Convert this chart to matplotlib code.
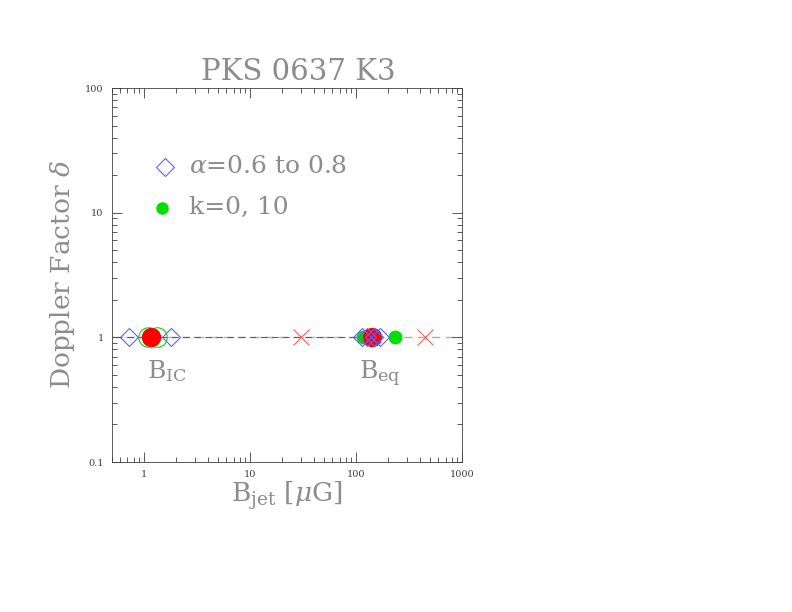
import matplotlib
matplotlib.use("Agg")
import matplotlib.pyplot as plt
import numpy as np

# Data
ic_diamonds_x = [0.72, 1.79]
ic_green_x = [1.10, 1.32]
ic_red_x = [1.17]
eq_diamonds_x = [113, 128, 148, 167]
eq_green_x = [116, 235]
eq_red_x = [142]
cross_x = [30.5, 452]
delta = 1.0

x_ticks = [1, 10, 100, 1000]
x_ticklabels = ["1", "10", "100", "1000"]
y_ticks = [0.1, 1, 10, 100]
y_ticklabels = ["0.1", "1", "10", "100"]

plt.rcParams['mathtext.fontset'] = 'dejavuserif'
plt.rcParams['font.family'] = 'DejaVu Serif'

gray = '#8c8c8c'
dark = '#404040'

fig = plt.figure(figsize=(7.92, 6.12), dpi=100)
ax = fig.add_axes([112/792, 1-462/612, 350/792, 374/612])
ax.set_xscale('log')
ax.set_yscale('log')
ax.set_xlim(0.5, 1000)
ax.set_ylim(0.1, 100)

# dashed lines
ax.plot([0.5, 1000], [delta, delta], ls=(0, (6, 4)), color='#b0b0b0', lw=1.0, zorder=1)
ax.plot([0.7, 170], [delta, delta], ls=(0, (6, 4)), color='#606060', lw=0.8, zorder=1)

# IC markers
ax.plot(ic_green_x, [delta]*len(ic_green_x), 'o', ms=14, mfc='none', mec='#00e000', mew=0.8, zorder=2)
ax.plot(ic_red_x, [delta], 'o', ms=13, color='red', zorder=3)
ax.plot(ic_diamonds_x, [delta]*len(ic_diamonds_x), 'D', ms=9, mfc='none', mec='#6060ff', mew=0.8, zorder=4)

# eq markers
ax.plot(eq_green_x, [delta]*len(eq_green_x), 'o', ms=9, color='#00e000', zorder=2)
ax.plot(eq_red_x, [delta], 'o', ms=13, color='red', zorder=3)
ax.plot(eq_diamonds_x, [delta]*len(eq_diamonds_x), 'D', ms=9, mfc='none', mec='#6060ff', mew=0.8, zorder=4)

# crosses
ax.plot(cross_x, [delta]*len(cross_x), 'x', ms=11, color='#ff6060', mew=0.8, zorder=3)

# labels near points
ax.text(1.65, 0.535, r'$\mathrm{B_{IC}}$', color=gray, fontsize=18, ha='center', va='center')
ax.text(167, 0.51, r'$\mathrm{B_{eq}}$', color=gray, fontsize=18, ha='center', va='center')

# legend
ax.plot([1.57], [23.3], 'D', ms=9, mfc='none', mec='#6060ff', mew=0.8)
ax.text(2.65, 23.3, r'$\alpha$=0.6 to 0.8', color=gray, fontsize=18, va='center', ha='left')
ax.plot([1.47], [11.0], 'o', ms=8, color='#00e000')
ax.text(2.65, 11.0, 'k=0, 10', color=gray, fontsize=18, va='center', ha='left')

ax.set_xticks(x_ticks)
ax.set_xticklabels(x_ticklabels)
ax.set_yticks(y_ticks)
ax.set_yticklabels(y_ticklabels)
ax.tick_params(which='both', direction='in', top=True, right=True, colors=dark, labelsize=7, labelcolor=dark)
ax.tick_params(which='major', length=7, width=0.6, pad=6)
ax.tick_params(which='minor', length=3.5, width=0.6)
for s in ax.spines.values():
    s.set_color(dark)
    s.set_linewidth(0.6)

fig.text(298/792, 1-72/612, 'PKS 0637 K3', color=gray, fontsize=21, ha='center', va='center')
ax.set_xlabel(r'$\mathrm{B_{jet}}$ [$\mu$G]', color=gray, fontsize=19, labelpad=0)
ax.set_ylabel(r'Doppler Factor $\delta$', color=gray, fontsize=19, labelpad=6)

fig.savefig('out.png', dpi=100)
